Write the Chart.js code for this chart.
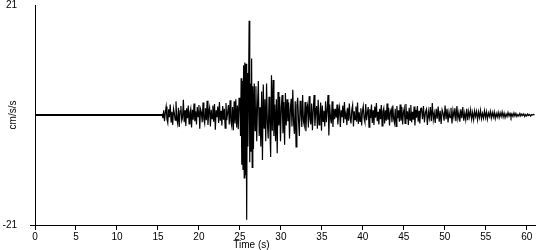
<!DOCTYPE html>
<html>
<head>
<meta charset="utf-8">
<script src="https://cdn.jsdelivr.net/npm/chart.js@4/dist/chart.umd.min.js"></script>
<style>
  body { margin: 0; background: #fff; }
</style>
</head>
<body>
<canvas id="quake-chart" width="550" height="250"></canvas>
<script>
// quiet part before the first arrival
const preTimes = [0, 15.5];
const preValues = [0, 0];

// each part of the record: start time (s), sample step (s), values (cm/s/s)
const pWaveStart = 15.5, pWaveStep = 0.1;
const pWave = [
  0.2, -0.6, 0.9, -1.2, 0.5, 1.6, -0.8, -1.5, 1.1, -0.4,
  2.0, -1.3, 0.6, -1.9, 1.2, 0.3, -1.0, 2.6, -0.7, -1.6,
  1.4, -2.3, 0.8, 1.7, -1.1, -0.5, 2.9, -1.4, 0.9, -2.1,
  1.3, -0.6, 1.8, -1.7, 0.4, 1.2, -2.4, 1.0, -0.9, 2.2,
  -1.2, 0.7, -1.8, 1.5, -0.3, 1.9, -2.6, 1.1, 0.5, -1.4,
  2.4, -0.8, -1.6, 1.3, -1.0, 2.7, -1.9, 0.6, 1.4, -2.2,
  1.0, -0.7, 1.8, -1.3, 2.1, -2.8, 0.9, -0.4, 1.6, -1.5,
  2.5, -1.1, 0.8, -2.0, 1.7, -0.9, 1.2, -2.5, 2.3, -1.0,
  0.5, 1.9, -1.8, 2.8, -1.2, -2.1, 1.5, -2.9, 2.6, -1.6,
  3.0, -2.4, 1.8, -2.7, 3.3
];

const burstStart = 25.0, burstStep = 0.075;
const burst = [
  2.0, -4.0, 7.0, -9.5, 6.5, -10.5, 9.5, -12.0, 10.0, -11.5,
  9.8, -20.0, 8.0, -6.0, 4.0, 18.0, -9.0, 6.0, -7.0, 10.8,
  -10.0, 5.5
];

const strongStart = 26.65, strongStep = 0.1;
const strongMotion = [
  -6.5, 6.0, -3.0, 5.5, -5.0, 2.0, 6.5, -4.0, 1.5, -6.0,
  4.5, -8.6, 5.8, -2.5, 3.0, -5.0, 6.0, -1.5, -4.5, 3.5,
  -2.0, -8.0, 7.6, -3.0, 6.7, -4.0, 2.0, -5.0, 3.0, -7.3,
  4.4, -2.0, 3.5, -5.0, 1.5, 3.8, -3.5, 2.5, -5.7, 4.2
];

const codaEarlyStart = 30.65, codaEarlyStep = 0.1;
const codaEarly = [
  -2.0, 3.0, -1.2, 2.4, -4.5, 1.0, 3.1, -2.2, 4.8, -1.5,
  -3.6, 2.6, -6.1, 1.8, 3.3, -1.0, -4.0, 2.7, 0.5, -2.3,
  3.8, -1.2, -2.0, 2.5, -3.1, 1.2, 1.9, -2.4, 3.6, -0.8,
  -1.8, 2.2, -2.9, 1.0, 3.8, -2.1, 0.6, 1.7, -2.6, 2.9,
  -1.9, -0.5, 2.4, -3.0, 1.8, -1.2, 0.8, -2.2, 2.6, -1.4,
  1.0, 3.8, -3.9, 2.0, -0.6, -1.6, 2.6, -2.3, 1.2, -0.8
];

const codaLateStart = 36.65, codaLateStep = 0.1;
const codaLate = [
  1.2, -0.5, 2.0, -1.8, 0.6, 1.5, -2.3, 0.9, -0.4, 1.8,
  -1.5, 2.5, -0.8, 0.3, -1.9, 1.4, -1.1, 2.2, -0.6, -1.6,
  1.0, 1.9, -2.2, 0.7, -0.9, 1.6, -1.3, 2.4, -1.7, 0.5,
  -1.2, 1.3, -2.0, 0.8, 1.7, -0.7, -1.4, 2.1, -1.0, 0.4,
  1.5, -2.3, 1.1, -0.6, 2.0, -1.5, 0.9, -1.9, 1.6, -0.5,
  2.3, -1.2, 0.6, -1.8, 1.2, -0.8, 1.9, -2.1, 0.7, 1.3,
  -1.6, 0.9, -1.1, 2.2, -0.9, 1.4, -2.0, 0.6, 1.1, -1.4,
  1.8, -0.7, -1.5, 1.2, -2.2, 1.7, -0.6, 0.9, -1.3, 2.0,
  -1.1, 1.5, -1.8, 0.5, 1.3, -1.6, 2.1, -0.8, 0.7, -1.9,
  1.4, -1.0, 1.9, -1.4, 0.6, -0.9, 1.6, -2.0, 1.0, -0.5,
  1.7, -1.3, 0.8, -1.6, 1.2
];

const tailStart = 47.15, tailStep = 0.12;
const tail = [
  1.3, -0.8, 1.7, -1.4, 0.5, 1.1, -1.9, 0.7, -0.6, 1.5,
  -1.2, 2.3, -0.9, 0.4, -1.5, 1.2, -0.7, 1.6, -1.3, 0.8,
  -1.7, 1.0, 0.3, -1.1, 1.8, -0.8, 1.2, -1.4, 0.6, -0.5,
  1.4, -1.6, 0.9, -0.4, 1.3, -1.2, 1.7, -0.7, 0.5, -1.3,
  1.1, -0.6, 1.5, -1.1, 0.4, -0.9, 1.2, -1.0, 0.7, -0.4,
  1.0, -0.8, 0.5, -0.9, 0.8, -0.3, 0.7, -0.9, 0.6, -0.5,
  0.9, -0.7, 0.3, -0.6, 0.8, -0.5, 0.6, -0.8, 0.4, -0.3,
  0.7, -0.6, 0.5, -0.4, 0.6, -0.7, 0.3, -0.4, 0.5, -0.5,
  0.4, -0.3, 0.6, -0.4,
  0.4, -0.5, 0.2, -0.3, 0.5, -0.2, 0.3, -0.4, 0.2, -0.3,
  0.4, -0.2, 0.3, -0.3, 0.1, -0.2, 0.3, -0.2, 0.2, -0.1,
  0.2, -0.3, 0.1, -0.2, 0.2, -0.1, 0.1, -0.2, 0.1, 0.0,
  0.1, 0.0
];

const xTickValues = [0, 5, 10, 15, 20, 25, 30, 35, 40, 45, 50, 55, 60];
const yTickValues = [-21, 21];
const xTitle = 'Time (s)';
const yTitle = 'cm/s/s';

const FONT = { family: '"Liberation Sans", Arial, sans-serif', size: 10 };

function toPoints(start, step, values) {
  return values.map((v, i) => ({ x: start + i * step, y: v }));
}

// the time label sits left of the axis centre, under the 25-30 s ticks
const timeTitlePlugin = {
  id: 'timeTitle',
  afterDraw(chart) {
    const { ctx, scales } = chart;
    ctx.save();
    ctx.font = FONT.size + 'px ' + FONT.family;
    ctx.fillStyle = '#000';
    ctx.textAlign = 'center';
    ctx.textBaseline = 'alphabetic';
    ctx.fillText(xTitle, scales.x.getPixelForValue(26.4), chart.height - 2);
    ctx.restore();
  }
};

function setupChart() {
  const ctx = document.getElementById('quake-chart').getContext('2d');

  const tracePoints = [].concat(
    toPoints(pWaveStart, pWaveStep, pWave),
    toPoints(burstStart, burstStep, burst),
    toPoints(strongStart, strongStep, strongMotion),
    toPoints(codaEarlyStart, codaEarlyStep, codaEarly),
    toPoints(codaLateStart, codaLateStep, codaLate),
    toPoints(tailStart, tailStep, tail)
  );
  const prePoints = preTimes.map((t, i) => ({ x: t, y: preValues[i] }));

  const config = {
    type: 'line',
    data: {
      datasets: [
        { data: prePoints, borderColor: '#000', borderWidth: 2, pointRadius: 0 },
        { data: tracePoints, borderColor: '#000', borderWidth: 1.2, pointRadius: 0 }
      ]
    },
    options: {
      responsive: false,
      animation: false,
      parsing: false,
      layout: { padding: { top: 5, right: 15, left: 0, bottom: 0 } },
      plugins: { legend: { display: false }, tooltip: { enabled: false } },
      elements: { line: { tension: 0 } },
      scales: {
        x: {
          type: 'linear',
          min: 0,
          max: 61,
          afterBuildTicks: s => { s.ticks = xTickValues.map(v => ({ value: v })); },
          afterFit: s => { s.height = 25; s.paddingLeft = 0; s.paddingRight = 0; },
          grid: { drawOnChartArea: false, drawTicks: true, tickLength: 5, color: '#000' },
          border: { display: true, color: '#000', width: 1 },
          ticks: { color: '#000', font: FONT, padding: 1, maxRotation: 0, autoSkip: false },
          title: { display: false }
        },
        y: {
          type: 'linear',
          min: -21,
          max: 21,
          afterBuildTicks: s => { s.ticks = yTickValues.map(v => ({ value: v })); },
          afterFit: s => { s.width = 35; s.paddingTop = 0; s.paddingBottom = 0; },
          grid: {
            drawOnChartArea: false, drawTicks: true, tickLength: 5, color: '#000',
            // only the bottom value gets a tick mark
            tickColor: c => (c.tick && c.tick.value === 21 ? 'rgba(0,0,0,0)' : '#000')
          },
          border: { display: true, color: '#000', width: 1 },
          ticks: { color: '#000', font: FONT, padding: 13 },
          title: {
            display: true, text: yTitle, color: '#000',
            font: FONT, padding: { top: 7, bottom: 0 }
          }
        }
      }
    },
    plugins: [timeTitlePlugin]
  };

  return new Chart(ctx, config);
}

setupChart();
</script>
</body>
</html>
